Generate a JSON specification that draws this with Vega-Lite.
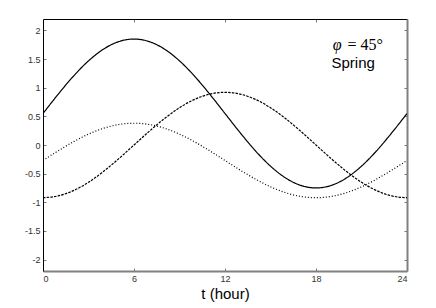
{
  "$schema": "https://vega.github.io/schema/vega-lite/v6.json",
  "width": 364,
  "height": 252,
  "autosize": {"type": "none"},
  "padding": {"left": 43, "top": 19, "right": 29, "bottom": 37},
  "background": "white",
  "config": {
    "view": {"stroke": null},
    "axis": {"grid": false, "labelFont": "Liberation Sans", "labelFontSize": 9, "labelColor": "#333333", "tickColor": "#777777", "tickSize": -3, "labelPadding": 6, "domainColor": "black", "domainWidth": 1}
  },
  "datasets": {
    "curves": [
      {"t":0,"v":0.55,"s":"a"},{"t":1,"v":0.886,"s":"a"},{"t":2,"v":1.2,"s":"a"},{"t":3,"v":1.469,"s":"a"},{"t":4,"v":1.676,"s":"a"},{"t":5,"v":1.806,"s":"a"},{"t":6,"v":1.85,"s":"a"},{"t":7,"v":1.806,"s":"a"},{"t":8,"v":1.676,"s":"a"},{"t":9,"v":1.469,"s":"a"},{"t":10,"v":1.2,"s":"a"},{"t":11,"v":0.886,"s":"a"},{"t":12,"v":0.55,"s":"a"},{"t":13,"v":0.214,"s":"a"},{"t":14,"v":-0.1,"s":"a"},{"t":15,"v":-0.369,"s":"a"},{"t":16,"v":-0.576,"s":"a"},{"t":17,"v":-0.706,"s":"a"},{"t":18,"v":-0.75,"s":"a"},{"t":19,"v":-0.706,"s":"a"},{"t":20,"v":-0.576,"s":"a"},{"t":21,"v":-0.369,"s":"a"},{"t":22,"v":-0.1,"s":"a"},{"t":23,"v":0.214,"s":"a"},{"t":24,"v":0.55,"s":"a"},
      {"t":0,"v":-0.92,"s":"b"},{"t":1,"v":-0.889,"s":"b"},{"t":2,"v":-0.797,"s":"b"},{"t":3,"v":-0.651,"s":"b"},{"t":4,"v":-0.46,"s":"b"},{"t":5,"v":-0.238,"s":"b"},{"t":6,"v":0,"s":"b"},{"t":7,"v":0.238,"s":"b"},{"t":8,"v":0.46,"s":"b"},{"t":9,"v":0.651,"s":"b"},{"t":10,"v":0.797,"s":"b"},{"t":11,"v":0.889,"s":"b"},{"t":12,"v":0.92,"s":"b"},{"t":13,"v":0.889,"s":"b"},{"t":14,"v":0.797,"s":"b"},{"t":15,"v":0.651,"s":"b"},{"t":16,"v":0.46,"s":"b"},{"t":17,"v":0.238,"s":"b"},{"t":18,"v":0,"s":"b"},{"t":19,"v":-0.238,"s":"b"},{"t":20,"v":-0.46,"s":"b"},{"t":21,"v":-0.651,"s":"b"},{"t":22,"v":-0.797,"s":"b"},{"t":23,"v":-0.889,"s":"b"},{"t":24,"v":-0.92,"s":"b"},
      {"t":0,"v":-0.27,"s":"c"},{"t":1,"v":-0.102,"s":"c"},{"t":2,"v":0.055,"s":"c"},{"t":3,"v":0.19,"s":"c"},{"t":4,"v":0.293,"s":"c"},{"t":5,"v":0.358,"s":"c"},{"t":6,"v":0.38,"s":"c"},{"t":7,"v":0.358,"s":"c"},{"t":8,"v":0.293,"s":"c"},{"t":9,"v":0.19,"s":"c"},{"t":10,"v":0.055,"s":"c"},{"t":11,"v":-0.102,"s":"c"},{"t":12,"v":-0.27,"s":"c"},{"t":13,"v":-0.438,"s":"c"},{"t":14,"v":-0.595,"s":"c"},{"t":15,"v":-0.73,"s":"c"},{"t":16,"v":-0.833,"s":"c"},{"t":17,"v":-0.898,"s":"c"},{"t":18,"v":-0.92,"s":"c"},{"t":19,"v":-0.898,"s":"c"},{"t":20,"v":-0.833,"s":"c"},{"t":21,"v":-0.73,"s":"c"},{"t":22,"v":-0.595,"s":"c"},{"t":23,"v":-0.438,"s":"c"},{"t":24,"v":-0.27,"s":"c"}
    ],
    "note": [{"phi": "φ", "eq": "=\u00a045°", "season": "Spring"}]
  },
  "resolve": {"axis": {"x": "independent", "y": "independent"}},
  "layer": [
    {
      "data": {"name": "curves"},
      "mark": {"type": "line", "interpolate": "monotone", "color": "black", "strokeWidth": 1.2, "clip": true},
      "encoding": {
        "x": {"field": "t", "type": "quantitative", "scale": {"domain": [0, 24], "nice": false},
          "axis": {"orient": "bottom", "values": [0, 6, 12, 18, 24], "title": "t (hour)", "titleFont": "Liberation Sans", "titleFontSize": 15, "titleFontWeight": "normal", "titleColor": "black", "titlePadding": 3, "domainColor": "#808080", "domainWidth": 2}},
        "y": {"field": "v", "type": "quantitative", "scale": {"domain": [-2.2, 2.2], "nice": false, "zero": false},
          "axis": {"orient": "left", "values": [-2, -1.5, -1, -0.5, 0, 0.5, 1, 1.5, 2], "title": null, "labelExpr": "toString(datum.value)"}},
        "strokeDash": {"field": "s", "type": "nominal", "scale": {"domain": ["a", "b", "c"], "range": [[1, 0], [2.5, 1.2], [1, 2]]}, "legend": null}
      }
    },
    {
      "data": {"name": "note"},
      "mark": {"type": "text", "font": "Liberation Serif", "fontSize": 16, "fontStyle": "italic", "align": "center", "baseline": "alphabetic", "color": "black"},
      "encoding": {
        "text": {"field": "phi"},
        "x": {"datum": 19.4, "type": "quantitative", "axis": {"orient": "top", "values": [0, 6, 12, 18, 24], "labels": false, "title": null}},
        "y": {"datum": 1.66, "type": "quantitative", "axis": {"orient": "right", "values": [-2, -1.5, -1, -0.5, 0, 0.5, 1, 1.5, 2], "labels": false, "title": null, "domainColor": "#808080", "domainWidth": 2}}
      }
    },
    {
      "data": {"name": "note"},
      "mark": {"type": "text", "font": "Liberation Serif", "fontSize": 16, "align": "left", "baseline": "alphabetic", "color": "black"},
      "encoding": {
        "text": {"field": "eq"},
        "x": {"datum": 20.08, "type": "quantitative", "axis": null},
        "y": {"datum": 1.66, "type": "quantitative", "axis": null}
      }
    },
    {
      "data": {"name": "note"},
      "mark": {"type": "text", "font": "Liberation Sans", "fontSize": 15, "align": "center", "baseline": "alphabetic", "color": "black"},
      "encoding": {
        "text": {"field": "season"},
        "x": {"datum": 20.45, "type": "quantitative", "axis": null},
        "y": {"datum": 1.344, "type": "quantitative", "axis": null}
      }
    }
  ]
}
